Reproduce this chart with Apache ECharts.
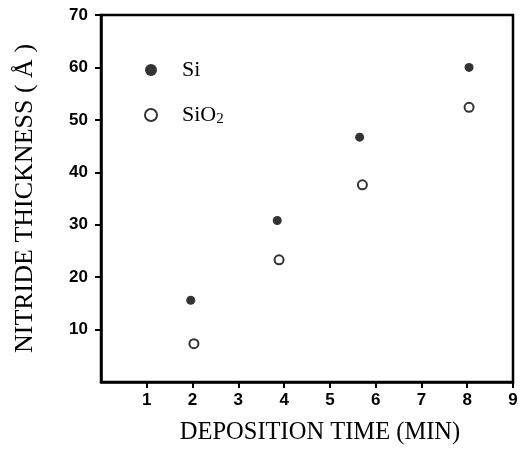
<!DOCTYPE html>
<html>
<head>
<meta charset="utf-8">
<script src="https://cdn.jsdelivr.net/npm/echarts@6/dist/echarts.min.js"></script>
<style>
html, body { margin: 0; padding: 0; background: #fff; }
#chart { width: 525px; height: 450px; }
</style>
</head>
<body>
<div id="chart"></div>
<script>
var siTime = [1.96, 3.85, 5.65, 8.04];
var siThickness = [15.6, 30.8, 46.7, 60.0];
var sio2Time = [2.03, 3.89, 5.71, 8.04];
var sio2Thickness = [7.3, 23.3, 37.6, 52.4];
var xTicks = [1, 2, 3, 4, 5, 6, 7, 8, 9];
var yTicks = [10, 20, 30, 40, 50, 60, 70];

function pairs(xs, ys) {
    var out = [];
    for (var i = 0; i < xs.length; ++i) {
        out.push([xs[i], ys[i]]);
    }
    return out;
}

var tickFont = {
    fontFamily: 'Liberation Sans, sans-serif',
    fontWeight: 'bold',
    fontSize: 17,
    color: '#000'
};

var chart = echarts.init(document.getElementById('chart'));
chart.setOption({
    backgroundColor: '#fff',
    animation: false,
    grid: {
        left: 101,
        right: 12,
        top: 15,
        bottom: 65,
        show: true,
        borderColor: '#000',
        borderWidth: 2.5
    },
    legend: {
        orient: 'vertical',
        left: 139,
        top: 54,
        itemGap: 23,
        itemWidth: 12,
        itemHeight: 12,
        formatter: function (name) {
            return name === 'Si' ? '{a|Si}' : '{a|SiO}{b|2}';
        },
        textStyle: {
            padding: [0, 0, 0, 20],
            rich: {
                a: {
                    fontFamily: 'Liberation Serif, serif',
                    fontSize: 22,
                    color: '#000'
                },
                b: {
                    fontFamily: 'Liberation Serif, serif',
                    fontSize: 15,
                    color: '#000',
                    padding: [8, 0, 0, 0]
                }
            }
        },
        data: ['Si', 'SiO₂']
    },
    xAxis: {
        type: 'value',
        min: 0,
        max: 9,
        interval: 1,
        name: 'DEPOSITION TIME (MIN)',
        nameLocation: 'middle',
        nameGap: 38,
        nameTextStyle: {
            fontFamily: 'Liberation Serif, serif',
            fontSize: 24.5,
            color: '#000',
            padding: [0, 0, 0, 26]
        },
        axisLine: { lineStyle: { color: '#000', width: 2.5 } },
        axisTick: { customValues: xTicks, length: 6, lineStyle: { color: '#000', width: 2 } },
        axisLabel: Object.assign({ customValues: xTicks, margin: 10 }, tickFont),
        splitLine: { show: false }
    },
    yAxis: {
        type: 'value',
        min: 0,
        max: 70,
        interval: 10,
        name: 'NITRIDE THICKNESS ( Å )',
        nameLocation: 'middle',
        nameGap: 63,
        nameRotate: 90,
        nameTextStyle: {
            fontFamily: 'Liberation Serif, serif',
            fontSize: 26,
            color: '#000'
        },
        axisLine: { lineStyle: { color: '#000', width: 2.5 } },
        axisTick: { customValues: yTicks, length: 6, lineStyle: { color: '#000', width: 2 } },
        axisLabel: Object.assign({ customValues: yTicks, margin: 13 }, tickFont),
        splitLine: { show: false }
    },
    series: [{
        name: 'Si',
        type: 'scatter',
        symbol: 'circle',
        symbolSize: 9,
        itemStyle: { color: '#000' },
        data: pairs(siTime, siThickness)
    }, {
        name: 'SiO₂',
        type: 'scatter',
        symbol: 'circle',
        symbolSize: 9,
        itemStyle: { color: '#fff', borderColor: '#000', borderWidth: 2 },
        data: pairs(sio2Time, sio2Thickness)
    }]
});
</script>
</body>
</html>
